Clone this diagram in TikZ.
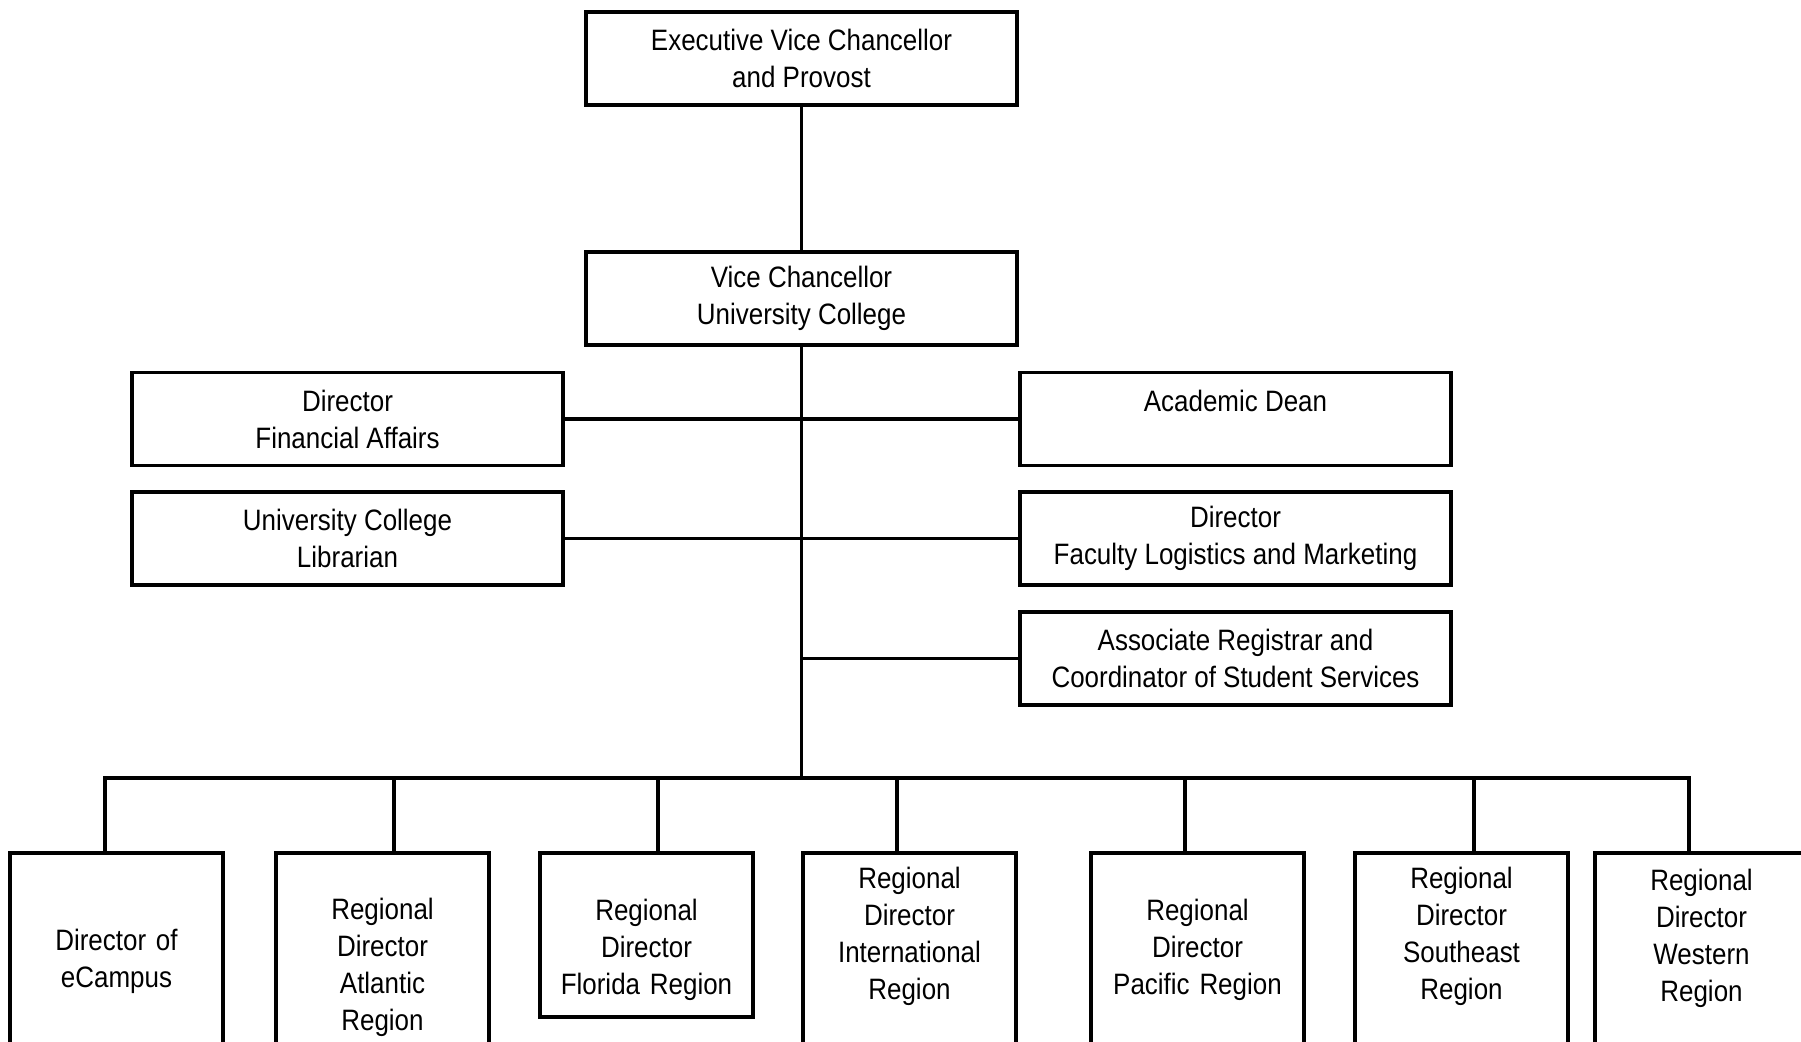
\documentclass[tikz,border=0pt]{standalone}
\usepackage{fontspec}
\setmainfont{Liberation Sans}[FakeStretch=0.88]
\tikzset{
	bx/.style={draw, line width=3.8pt, minimum width=431pt, minimum height=93pt, inner sep=4pt, align=center, font=\fontsize{29.5}{37}\selectfont},
	lbx/.style={draw, line width=3.8pt, anchor=north, inner sep=0pt, text width=213pt, align=center, text height=#1, text depth=200pt, font=\fontsize{29.5}{37}\selectfont},
	ln/.style={line width=3.8pt, line cap=rect},
}

\begin{document}
\begin{tikzpicture}[x=1pt,y=-1pt]
	\useasboundingbox (0,0) rectangle (1801,1041);
	\clip (0,0) rectangle (1801,1041);

	\node [bx] (evc) at (801.5,58.5) {Executive Vice Chancellor\\and Provost};
	\node [bx] (vc) at (801.5,298.5) {Vice Chancellor\\University College};

	\node [bx] (dfa) at (347.5,419) {Director\\Financial Affairs};
	\node [bx] (lib) at (347.5,538.5) {University College\\Librarian};
	\node [bx] (adean) at (1235.5,419) {Academic Dean\\\mbox{}};
	\node [bx] (dflm) at (1235.5,538.5) {Director\\Faculty Logistics and Marketing};
	\node [bx] (areg) at (1235.5,658.5) {Associate Registrar and\\Coordinator of Student Services};

	\node [lbx=98pt] (ecamp) at (116.5,851) {Director of\\eCampus};
	\node [lbx=67pt] (atl) at (382.5,851) {Regional\\Director\\Atlantic\\Region};
	\node [lbx=68pt, text depth=96pt] (flo) at (646.5,851) {Regional\\Director\\Florida Region};
	\node [lbx=36pt] (intl) at (909.5,851) {Regional\\Director\\International\\Region};
	\node [lbx=68pt] (pac) at (1197.5,851) {Regional\\Director\\Pacific Region};
	\node [lbx=36pt] (seast) at (1461.5,851) {Regional\\Director\\Southeast\\Region};
	\node [lbx=38pt] (wreg) at (1701.5,851) {Regional\\Director\\Western\\Region};

	\coordinate (busmid) at (801.5,778);

	\draw [ln] (evc) -- (vc);
	\draw [ln] (vc) -- (busmid);
	\draw [ln] (dfa) -- (adean);
	\draw [ln] (lib) -- (dflm);
	\draw [ln] (vc.south |- areg.west) -- (areg.west);

	\draw [ln] ([xshift=-11.5pt]ecamp.north |- busmid) -- ([xshift=-12.5pt]wreg.north |- busmid);
	\foreach \n/\dx in {ecamp/-11.5,atl/11.5,flo/11.5,intl/-12.5,pac/-12.5,seast/12.5,wreg/-12.5}
		\draw [ln] ([xshift=\dx pt]\n.north) -- ([xshift=\dx pt]\n.north |- busmid);
\end{tikzpicture}
\end{document}
